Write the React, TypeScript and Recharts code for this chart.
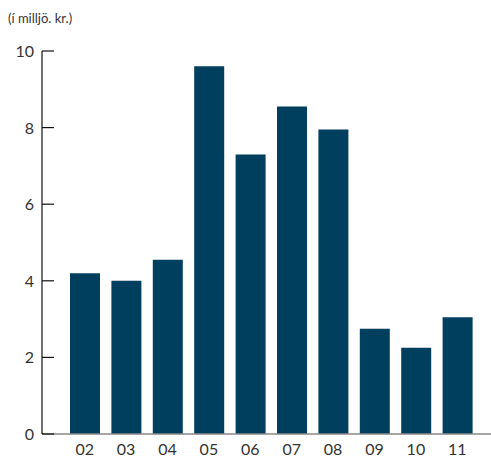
import React from 'react';
import { BarChart, Bar, XAxis, YAxis } from 'recharts';

const years = ['02', '03', '04', '05', '06', '07', '08', '09', '10', '11'];
const amounts = [4.2, 4.0, 4.55, 9.6, 7.3, 8.55, 7.95, 2.75, 2.25, 3.05];
const yTicks = [0, 2, 4, 6, 8, 10];

const data = years.map((year, i) => ({ year, amount: amounts[i] }));

const AXIS_X = 42;

const YTick = (props: any) => {
  const { y, payload } = props;
  return (
    <g>
      <line x1={AXIS_X} x2={AXIS_X + 12} y1={y} y2={y} stroke="#111" strokeWidth={1.2} />
      <text x={34} y={y} dy={6} textAnchor="end" fill="#333" fontSize={16}>
        {payload.value}
      </text>
    </g>
  );
};

const App: React.FC = () => {
  return (
    <div style={{ position: 'absolute', left: 0, top: 0, width: 491, height: 461, background: '#fff', fontFamily: 'Lato, sans-serif' }}>
      <div style={{ position: 'absolute', left: 8, top: 10, fontSize: 13, color: '#333' }}>(í milljö. kr.)</div>
      <BarChart
        width={491}
        height={461}
        data={data}
        margin={{ top: 51, right: 0, left: 0, bottom: 0 }}
      >
        <XAxis
          dataKey="year"
          height={27}
          padding={{ left: 22, right: 13 }}
          axisLine={{ stroke: '#888', strokeWidth: 1.5 }}
          tickLine={false}
          tick={{ fill: '#333', fontSize: 16 }}
          tickMargin={4}
        />
        <YAxis
          type="number"
          domain={[0, 10]}
          ticks={yTicks}
          width={AXIS_X}
          axisLine={{ stroke: '#111', strokeWidth: 1.2 }}
          tickLine={false}
          tick={<YTick />}
          interval={0}
        />
        <Bar dataKey="amount" fill="#003f5e" barSize={30} isAnimationActive={false} />
      </BarChart>
    </div>
  );
};

export default App;
